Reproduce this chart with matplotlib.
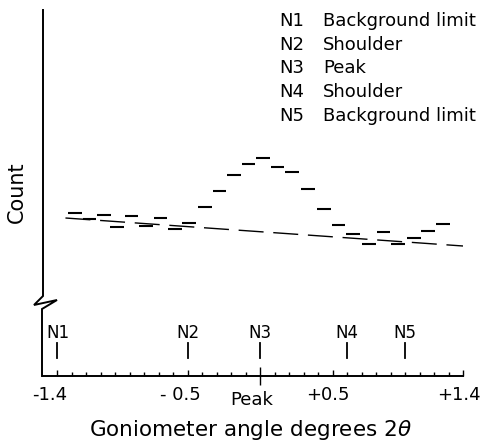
import matplotlib
matplotlib.use("Agg")
import matplotlib.pyplot as plt
import matplotlib.transforms as mtransforms

plt.rcParams['font.family'] = ['DejaVu Sans']
plt.rcParams['lines.scale_dashes'] = False

# ---- data ----
angles = [-1.28, -1.18, -1.08, -0.99, -0.89, -0.79, -0.69, -0.59, -0.49,
          -0.38, -0.28, -0.18, -0.08, 0.02, 0.12, 0.22, 0.33, 0.44,
          0.54, 0.64, 0.75, 0.85, 0.95, 1.06, 1.16, 1.26]
counts = [815, 785, 805, 745, 800, 750, 790, 735, 765,
          845, 925, 1005, 1060, 1090, 1045, 1020, 935, 835,
          755, 710, 660, 720, 660, 690, 725, 760]
bg_angles = [-1.345, 1.40]
bg_counts = [790, 650]

n_names = ['N1', 'N2', 'N3', 'N4', 'N5']
n_pos = [-1.4, -0.5, 0.0, 0.6, 1.0]
n_desc = ['Background limit', 'Shoulder', 'Peak', 'Shoulder', 'Background limit']

minor_ticks = [round(-1.4 + 0.1 * i, 2) for i in range(29)]
tick_pos = [-1.4, -0.5, 0.0, 0.5, 1.4]
tick_labels = ['-1.4', '- 0.5', 'Peak', '+0.5', '+1.4']

# ---- figure ----
W, H = 487, 444
fig = plt.figure(figsize=(W / 100, H / 100), dpi=100)
L, R, B, T = 43, 463, 376, 10
ax = fig.add_axes([L / W, 1 - B / H, (R - L) / W, (B - T) / H])
ax.set_xlim(-1.5, 1.4)
ax.set_ylim(0, 1830)
for s in ['left', 'right', 'top']:
    ax.spines[s].set_visible(False)
ax.spines['bottom'].set_linewidth(1.4)
ax.set_yticks([])

# data dashes
half = 0.047
ax.hlines(counts, [a - half for a in angles], [a + half for a in angles],
          colors='black', linewidth=1.5)
# background line
ax.plot(bg_angles, bg_counts, color='black', linewidth=1.0, dashes=(18, 7))

# left axis with break zigzag (axes coords)
def px2ax(px, py):
    return (px - L) / (R - L), (B - py) / (B - T)
zig = [(43, 10), (43, 296), (34, 305), (57, 300), (42, 309), (42, 376)]
zx, zy = zip(*[px2ax(*p) for p in zig])
ax.plot(zx, zy, color='black', linewidth=1.4, transform=ax.transAxes,
        clip_on=False, solid_joinstyle='miter')

# ticks
ax.set_xticks(minor_ticks, minor=True)
ax.set_xticks(tick_pos, [''] * len(tick_pos))
ax.tick_params(axis='x', which='minor', direction='in', length=2.8, width=1.0)
ax.tick_params(axis='x', which='major', direction='in', length=4.5, width=1.0)
for t, p in zip(ax.xaxis.get_major_ticks(), tick_pos):
    if p == 0.0:
        t.tick1line.set_marker('|')
        t.tick1line.set_markersize(13)

# tick labels (slightly left of ticks, as in the reference)
label_dx = [-8, -7, -9, -5, -4]
label_dy = [0, 0, -5, 0, 0]
for p, lab, dx, dy in zip(tick_pos, tick_labels, label_dx, label_dy):
    tr = mtransforms.blended_transform_factory(ax.transData, ax.transAxes)
    tr = tr + mtransforms.ScaledTranslation(dx / 100, dy / 100, fig.dpi_scale_trans)
    ax.text(p, -0.052, lab, transform=tr, ha='center', va='center', fontsize=13)

# N markers
btr = mtransforms.blended_transform_factory(ax.transData, ax.transAxes)
for name, p in zip(n_names, n_pos):
    ax.plot([p, p], [0.050, 0.090], color='black', linewidth=1.3, transform=btr)
    ax.text(p, 0.118, name, transform=btr, ha='center', va='center', fontsize=12)

ax.text(-0.07, -0.147, 'Goniometer angle degrees 2$\\theta$',
        transform=btr, ha='center', va='center', fontsize=15.5)

fig.text(17 / W, 1 - 192 / H, 'Count', rotation=90, ha='center', va='center',
         fontsize=15)

# legend text
for i, (name, desc) in enumerate(zip(n_names, n_desc)):
    y = 1 - (21 + 23.7 * i) / H
    fig.text(279 / W, y, name, ha='left', va='center', fontsize=13)
    fig.text(323 / W, y, desc, ha='left', va='center', fontsize=13)

fig.savefig('out.png', dpi=100)
